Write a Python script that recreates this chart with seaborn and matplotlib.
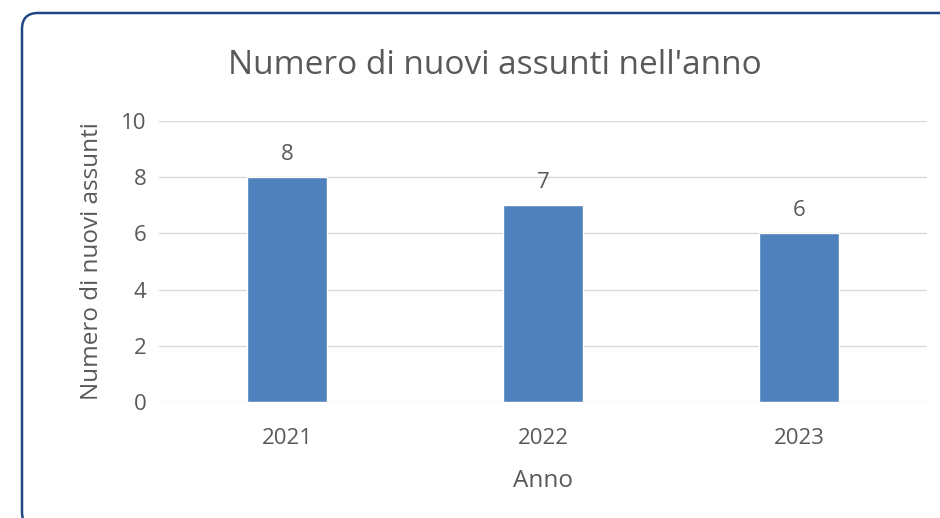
import matplotlib
matplotlib.use("Agg")
import matplotlib.pyplot as plt
import matplotlib.transforms as mtransforms
from matplotlib.patches import FancyBboxPatch
import seaborn as sns
import pandas as pd

anni = ["2021", "2022", "2023"]
assunti = [8, 7, 6]

df = pd.DataFrame({"Anno": anni, "Assunti": assunti})

sns.set_theme(style="white")
plt.rcParams["font.family"] = ["Open Sans", "DejaVu Sans"]

grigio = "#595959"
blu = "#4F81BD"

fig = plt.figure(figsize=(9.4, 5.18), dpi=100)
ax = fig.add_axes([159 / 940, 1 - 402 / 518, (927 - 159) / 940, (402 - 121) / 518])

sns.barplot(data=df, x="Anno", y="Assunti", color=blu, width=0.3125,
            saturation=1, ax=ax, zorder=3)

ax.set_ylim(0, 10)
ax.set_xlim(-0.5, 2.5)
ax.set_yticks([0, 2, 4, 6, 8, 10])
ax.yaxis.grid(True, color="#D9D9D9", linewidth=1.0, zorder=0)
ax.set_axisbelow(True)
for s in ax.spines.values():
    s.set_visible(False)
ax.tick_params(axis="both", length=0, labelsize=16, labelcolor=grigio)
ax.tick_params(axis="x", pad=19)
ax.tick_params(axis="y", pad=9)

for c in ax.containers:
    ax.bar_label(c, padding=9, fontsize=16, color=grigio)

ax.set_xlabel("Anno", fontsize=17.5, color=grigio, labelpad=14)
ax.set_ylabel("Numero di nuovi assunti", fontsize=17.5, color=grigio, labelpad=12)

fig.text(495 / 940, 1 - 66 / 518, "Numero di nuovi assunti nell'anno",
         ha="center", va="center", fontsize=24, color=grigio)

cornice = FancyBboxPatch((22, -10), 1000, 515, boxstyle="round,pad=0,rounding_size=16",
                         transform=mtransforms.IdentityTransform(),
                         facecolor="none", edgecolor="#1F4784", linewidth=1.8)
fig.add_artist(cornice)

fig.savefig("out.png", dpi=100)
